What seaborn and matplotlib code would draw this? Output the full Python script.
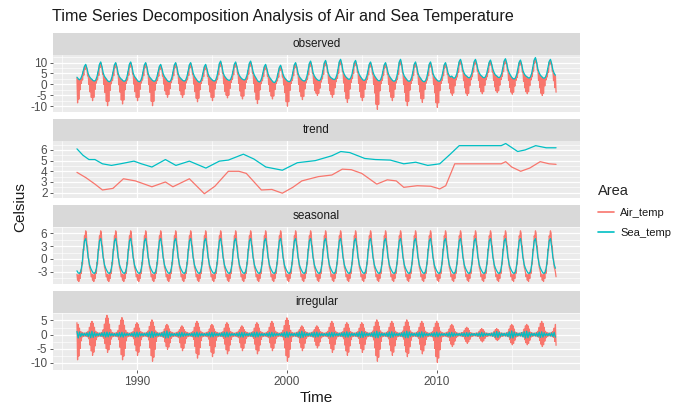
import numpy as np
import pandas as pd
import matplotlib
matplotlib.use("Agg")
import matplotlib.pyplot as plt
import seaborn as sns
from matplotlib.lines import Line2D

# ---------------- data (one row per year Jan..Dec) ----------------
years = list(range(1986, 2018))
areas = ["Air_temp", "Sea_temp"]
components = ["observed", "trend", "seasonal", "irregular"]

sea_obs = [
    [3.3, 2.6, 2.1, 2.6, 4.0, 6.2, 8.3, 9.2, 7.4, 4.9, 3.6, 2.8],
    [2.3, 1.7, 1.5, 2.0, 3.5, 6.1, 9.2, 10.3, 8.2, 5.3, 3.7, 2.9],
    [2.1, 1.4, 1.2, 1.7, 3.3, 6.0, 9.0, 10.0, 8.0, 5.0, 3.5, 2.7],
    [2.2, 1.6, 1.4, 1.9, 3.4, 6.2, 9.3, 10.3, 8.3, 5.2, 3.7, 2.9],
    [2.1, 1.4, 1.2, 1.7, 3.2, 6.0, 9.0, 10.0, 8.0, 5.0, 3.5, 2.8],
    [2.1, 1.6, 1.4, 1.9, 3.4, 5.8, 8.3, 9.2, 7.3, 4.9, 3.6, 2.8],
    [2.0, 1.4, 1.2, 1.7, 3.2, 6.0, 9.0, 10.0, 8.0, 5.0, 3.5, 2.8],
    [2.2, 1.7, 1.5, 2.0, 3.5, 6.1, 9.0, 10.0, 8.0, 5.2, 3.7, 2.8],
    [2.0, 1.3, 1.0, 1.5, 3.0, 5.6, 8.2, 9.2, 7.2, 4.8, 3.5, 2.8],
    [2.2, 1.7, 1.5, 2.0, 3.6, 6.4, 9.6, 10.7, 8.6, 5.4, 3.9, 3.1],
    [2.4, 2.0, 1.8, 2.3, 3.8, 6.4, 9.3, 10.3, 8.3, 5.6, 4.1, 3.2],
    [2.6, 2.2, 2.0, 2.5, 4.0, 6.7, 9.7, 10.7, 8.6, 5.8, 4.2, 3.2],
    [2.2, 1.4, 1.1, 1.6, 3.1, 5.6, 8.2, 9.2, 7.2, 4.8, 3.4, 2.6],
    [1.8, 1.1, 0.8, 1.3, 2.8, 5.3, 7.8, 8.8, 6.9, 4.6, 3.2, 2.5],
    [1.8, 1.4, 1.2, 1.7, 3.2, 6.0, 9.0, 10.0, 8.0, 5.1, 3.6, 2.8],
    [2.1, 1.7, 1.5, 2.0, 3.6, 6.4, 9.6, 10.7, 8.6, 5.4, 3.9, 3.0],
    [2.3, 1.9, 1.7, 2.2, 3.8, 6.6, 9.9, 11.0, 8.9, 5.6, 4.1, 3.2],
    [2.8, 2.4, 2.2, 2.7, 4.3, 7.1, 10.4, 11.5, 9.4, 6.1, 4.6, 3.6],
    [3.0, 2.5, 2.3, 2.8, 4.3, 7.0, 10.0, 11.0, 8.9, 6.1, 4.5, 3.5],
    [2.7, 2.0, 1.8, 2.3, 3.8, 6.4, 9.3, 10.3, 8.3, 5.6, 4.1, 3.2],
    [2.4, 1.8, 1.6, 2.1, 3.6, 6.2, 9.0, 10.0, 8.0, 5.4, 3.9, 3.0],
    [2.2, 1.6, 1.4, 1.9, 3.6, 6.6, 10.3, 11.5, 9.1, 5.4, 3.8, 3.0],
    [2.2, 1.6, 1.4, 1.9, 3.4, 6.1, 9.3, 10.3, 8.2, 5.2, 3.7, 2.9],
    [2.0, 1.4, 1.2, 1.7, 3.2, 6.0, 9.3, 10.3, 8.2, 5.0, 3.6, 2.8],
    [2.1, 1.6, 1.4, 1.9, 3.4, 6.0, 9.0, 10.0, 8.0, 5.3, 4.0, 3.4],
    [3.8, 3.1, 2.8, 3.3, 4.8, 7.6, 10.5, 11.5, 9.5, 6.6, 5.1, 4.2],
    [3.8, 3.2, 3.0, 3.5, 5.0, 7.7, 10.5, 11.5, 9.5, 6.8, 5.3, 4.3],
    [3.8, 3.2, 3.0, 3.5, 5.0, 7.6, 10.2, 11.2, 9.2, 6.8, 5.3, 4.3],
    [3.9, 3.3, 3.1, 3.6, 5.1, 7.9, 10.8, 11.8, 9.8, 6.9, 5.3, 4.2],
    [3.3, 2.7, 2.5, 3.0, 4.6, 7.3, 10.2, 11.2, 9.2, 6.3, 4.9, 4.0],
    [3.6, 3.1, 2.9, 3.4, 5.1, 8.1, 11.2, 12.3, 10.1, 6.9, 5.3, 4.2],
    [3.6, 3.0, 2.8, 3.3, 4.8, 7.6, 10.5, 11.5, 9.5, 6.6, 5.1, 4.2],
]

# air temperature is daily and very noisy: upper and lower edge of its band per month
air_obs_hi = [
    [3.0, 2.3, 1.8, 2.3, 3.7, 5.9, 8.0, 8.9, 7.1, 4.6, 3.3, 2.5],
    [2.0, 1.4, 1.2, 1.7, 3.2, 5.8, 8.9, 10.0, 7.9, 5.0, 3.4, 2.6],
    [1.8, 1.1, 0.9, 1.4, 3.0, 5.7, 8.7, 9.7, 7.7, 4.7, 3.2, 2.4],
    [1.9, 1.3, 1.1, 1.6, 3.1, 5.9, 9.0, 10.0, 8.0, 4.9, 3.4, 2.6],
    [1.8, 1.1, 0.9, 1.4, 2.9, 5.7, 8.7, 9.7, 7.7, 4.7, 3.2, 2.5],
    [1.8, 1.3, 1.1, 1.6, 3.1, 5.5, 8.0, 8.9, 7.0, 4.6, 3.3, 2.5],
    [1.7, 1.1, 0.9, 1.4, 2.9, 5.7, 8.7, 9.7, 7.7, 4.7, 3.2, 2.5],
    [1.9, 1.4, 1.2, 1.7, 3.2, 5.8, 8.7, 9.7, 7.7, 4.9, 3.4, 2.5],
    [1.7, 1.0, 0.7, 1.2, 2.7, 5.3, 7.9, 8.9, 6.9, 4.5, 3.2, 2.5],
    [1.9, 1.4, 1.2, 1.7, 3.3, 6.1, 9.3, 10.4, 8.3, 5.1, 3.6, 2.8],
    [2.1, 1.7, 1.5, 2.0, 3.5, 6.1, 9.0, 10.0, 8.0, 5.3, 3.8, 2.9],
    [2.3, 1.9, 1.7, 2.2, 3.7, 6.4, 9.4, 10.4, 8.3, 5.5, 3.9, 2.9],
    [1.9, 1.1, 0.8, 1.3, 2.8, 5.3, 7.9, 8.9, 6.9, 4.5, 3.1, 2.3],
    [1.5, 0.8, 0.5, 1.0, 2.5, 5.0, 7.5, 8.5, 6.6, 4.3, 2.9, 2.2],
    [1.5, 1.1, 0.9, 1.4, 2.9, 5.7, 8.7, 9.7, 7.7, 4.8, 3.3, 2.5],
    [1.8, 1.4, 1.2, 1.7, 3.3, 6.1, 9.3, 10.4, 8.3, 5.1, 3.6, 2.7],
    [2.0, 1.6, 1.4, 1.9, 3.5, 6.3, 9.6, 10.7, 8.6, 5.3, 3.8, 2.9],
    [2.5, 2.1, 1.9, 2.4, 4.0, 6.8, 10.1, 11.2, 9.1, 5.8, 4.3, 3.3],
    [2.7, 2.2, 2.0, 2.5, 4.0, 6.7, 9.7, 10.7, 8.6, 5.8, 4.2, 3.2],
    [2.4, 1.7, 1.5, 2.0, 3.5, 6.1, 9.0, 10.0, 8.0, 5.3, 3.8, 2.9],
    [2.1, 1.5, 1.3, 1.8, 3.3, 5.9, 8.7, 9.7, 7.7, 5.1, 3.6, 2.7],
    [1.9, 1.3, 1.1, 1.6, 3.3, 6.3, 10.0, 11.2, 8.8, 5.1, 3.5, 2.7],
    [1.9, 1.3, 1.1, 1.6, 3.1, 5.8, 9.0, 10.0, 7.9, 4.9, 3.4, 2.6],
    [1.7, 1.1, 0.9, 1.4, 2.9, 5.7, 9.0, 10.0, 7.9, 4.7, 3.3, 2.5],
    [1.8, 1.3, 1.1, 1.6, 3.1, 5.7, 8.7, 9.7, 7.7, 5.0, 3.7, 3.1],
    [3.5, 2.8, 2.5, 3.0, 4.5, 7.3, 10.2, 11.2, 9.2, 6.3, 4.8, 3.9],
    [3.5, 2.9, 2.7, 3.2, 4.7, 7.4, 10.2, 11.2, 9.2, 6.5, 5.0, 4.0],
    [3.5, 2.9, 2.7, 3.2, 4.7, 7.3, 9.9, 10.9, 8.9, 6.5, 5.0, 4.0],
    [3.6, 3.0, 2.8, 3.3, 4.8, 7.6, 10.5, 11.5, 9.5, 6.6, 5.0, 3.9],
    [3.0, 2.4, 2.2, 2.7, 4.3, 7.0, 9.9, 10.9, 8.9, 6.0, 4.6, 3.7],
    [3.3, 2.8, 2.6, 3.1, 4.8, 7.8, 10.9, 12.0, 9.8, 6.6, 5.0, 3.9],
    [3.3, 2.7, 2.5, 3.0, 4.5, 7.3, 10.2, 11.2, 9.2, 6.3, 4.8, 3.9],
]
air_obs_lo = [
    [-8.5, -6.8, -2.5, 0.5, 2.0, 4.2, 6.8, 7.7, 3.9, 0.0, -3.5, -6.0],
    [-7.5, -6.0, -2.3, 0.6, 2.1, 4.1, 7.7, 8.8, 4.7, 0.0, -3.8, -7.8],
    [-9.8, -7.8, -2.8, 0.3, 1.8, 4.0, 7.5, 8.5, 4.5, -0.2, -3.6, -7.2],
    [-9.0, -7.2, -2.5, 0.5, 2.0, 4.2, 7.8, 8.8, 4.8, 0.1, -3.4, -6.0],
    [-7.5, -6.0, -2.3, 0.6, 2.0, 4.0, 7.5, 8.5, 4.5, -0.1, -3.7, -7.8],
    [-9.8, -7.8, -2.7, 0.4, 1.9, 3.8, 6.8, 7.7, 3.8, 0.1, -3.0, -4.7],
    [-5.9, -4.7, -2.0, 0.8, 2.2, 4.0, 7.5, 8.5, 4.5, 0.3, -3.0, -4.8],
    [-6.0, -4.8, -2.1, 0.7, 2.1, 4.1, 7.5, 8.5, 4.5, 0.1, -3.4, -6.4],
    [-8.0, -6.4, -2.5, 0.4, 1.8, 3.6, 6.7, 7.7, 3.7, -0.2, -3.5, -6.0],
    [-7.5, -6.0, -2.2, 0.6, 2.2, 4.4, 8.1, 9.2, 5.1, 0.2, -3.3, -5.0],
    [-6.2, -5.0, -1.9, 0.9, 2.3, 4.4, 7.8, 8.8, 4.8, 0.4, -3.1, -5.4],
    [-6.7, -5.4, -2.0, 0.9, 2.4, 4.7, 8.2, 9.2, 5.1, 0.3, -3.6, -7.0],
    [-8.8, -7.0, -2.6, 0.3, 1.7, 3.6, 6.7, 7.7, 3.7, -0.1, -3.3, -5.4],
    [-6.7, -5.4, -2.4, 0.3, 1.6, 3.3, 6.3, 7.3, 3.4, -0.3, -3.8, -8.0],
    [-10.0, -8.0, -2.8, 0.4, 1.9, 4.0, 7.5, 8.5, 4.5, 0.0, -3.4, -5.6],
    [-7.0, -5.6, -2.1, 0.7, 2.2, 4.4, 8.1, 9.2, 5.1, 0.3, -2.9, -4.1],
    [-5.1, -4.1, -1.8, 1.0, 2.5, 4.6, 8.4, 9.5, 5.4, 0.5, -3.0, -4.7],
    [-5.9, -4.7, -1.6, 1.2, 2.8, 5.1, 8.9, 10.0, 5.9, 0.6, -3.4, -6.6],
    [-8.3, -6.6, -2.2, 0.9, 2.6, 5.0, 8.5, 9.5, 5.4, 0.4, -3.3, -6.0],
    [-7.5, -6.0, -2.3, 0.6, 2.2, 4.4, 7.8, 8.8, 4.8, 0.0, -4.0, -9.2],
    [-11.5, -9.2, -3.0, 0.3, 1.9, 4.2, 7.5, 8.5, 4.5, 0.0, -3.4, -6.0],
    [-7.5, -6.0, -2.3, 0.6, 2.2, 4.6, 8.8, 10.0, 5.6, -0.1, -3.7, -7.8],
    [-9.8, -7.8, -2.7, 0.4, 1.9, 4.1, 7.8, 8.8, 4.7, 0.0, -3.5, -6.6],
    [-8.3, -6.6, -2.4, 0.5, 2.0, 4.0, 7.8, 8.8, 4.7, -0.1, -3.9, -8.5],
    [-10.6, -8.5, -2.9, 0.4, 1.9, 4.0, 7.5, 8.5, 4.5, 0.7, -2.0, -4.0],
    [-5.0, -4.0, -0.7, 2.0, 3.4, 5.6, 9.0, 10.0, 6.0, 1.7, -1.6, -4.1],
    [-5.1, -4.1, -0.6, 2.1, 3.5, 5.7, 9.0, 10.0, 6.0, 1.8, -1.4, -3.4],
    [-4.3, -3.4, -0.5, 2.1, 3.5, 5.6, 8.7, 9.7, 5.7, 1.8, -1.2, -3.0],
    [-3.8, -3.0, -0.4, 2.2, 3.6, 5.9, 9.3, 10.3, 6.3, 1.9, -1.4, -3.6],
    [-4.5, -3.6, -0.8, 1.8, 3.2, 5.3, 8.7, 9.7, 5.7, 1.4, -1.6, -3.4],
    [-4.3, -3.4, -0.6, 2.0, 3.5, 6.1, 9.7, 10.8, 6.6, 1.8, -1.6, -4.1],
    [-5.1, -4.1, -0.7, 2.0, 3.4, 5.6, 9.0, 10.0, 6.0, 1.7, -1.5, -3.6],
]

# trend (read at the times where the curve bends)
trend_sea_time = [1986.0, 1986.4, 1986.8, 1987.2, 1987.7, 1988.3, 1988.9, 1989.8, 1990.3,
                  1991.0, 1991.9, 1992.6, 1993.5, 1994.6, 1995.5, 1996.1, 1997.1, 1997.8,
                  1998.6, 1999.7, 2000.7, 2001.9, 2003.0, 2003.6, 2004.2, 2005.2, 2005.9,
                  2006.9, 2007.8, 2008.6, 2009.4, 2010.2, 2010.9, 2011.5, 2012.5, 2014.3,
                  2014.6, 2015.4, 2015.9, 2016.6, 2017.3, 2017.96]
trend_sea = [6.1, 5.5, 5.1, 5.1, 4.7, 4.55, 4.7, 4.95, 4.7, 4.4, 5.1, 4.55, 4.95, 4.3,
             4.95, 5.05, 5.6, 5.15, 4.4, 4.1, 4.8, 5.0, 5.45, 5.85, 5.75, 5.2, 5.1, 5.05,
             4.7, 4.85, 4.55, 4.7, 5.6, 6.4, 6.4, 6.4, 6.6, 5.85, 6.0, 6.4, 6.2, 6.2]
trend_air_time = [1986.0, 1986.6, 1987.2, 1987.7, 1988.4, 1989.1, 1989.9, 1991.0, 1991.9,
                  1992.4, 1993.5, 1994.5, 1995.2, 1996.1, 1996.8, 1997.3, 1998.3, 1999.0,
                  1999.7, 2000.4, 2001.0, 2002.1, 2003.0, 2003.7, 2004.3, 2005.0, 2006.0,
                  2006.7, 2007.3, 2007.8, 2008.7, 2009.6, 2010.2, 2010.6, 2011.2, 2011.8,
                  2012.5, 2014.3, 2014.6, 2015.0, 2015.6, 2016.2, 2016.9, 2017.5, 2017.96]
trend_air = [3.9, 3.4, 2.8, 2.25, 2.4, 3.3, 3.1, 2.55, 3.0, 2.55, 3.3, 1.9, 2.6, 4.0, 4.0,
             3.8, 2.25, 2.3, 1.95, 2.5, 3.1, 3.5, 3.65, 4.2, 4.15, 3.8, 2.8, 3.2, 3.1, 2.5,
             2.65, 2.6, 2.35, 2.65, 4.7, 4.7, 4.7, 4.7, 4.9, 4.4, 4.0, 4.3, 4.9, 4.7, 4.65]

# seasonal component: one year, repeated every year by the decomposition
sea_seasonal = [-2.8, -3.3, -3.4, -3.0, -1.5, 1.6, 4.2, 4.8, 2.8, 0.3, -1.3, -2.2]
air_seasonal_hi = [-3.6, -3.8, -3.3, -2.6, -0.8, 2.3, 5.4, 6.6, 3.4, 0.3, -1.9, -3.1]
air_seasonal_lo = [-5.0, -5.3, -4.6, -3.4, -1.2, 2.0, 5.0, 6.1, 3.0, 0.0, -2.4, -4.2]

# irregular component
air_irr_hi = [
    [4.2, 3.6, 2.3, 1.1, 0.8, 0.6, 0.5, 0.6, 0.8, 1.2, 2.6, 4.0],
    [4.7, 4.0, 2.6, 1.2, 0.8, 0.6, 0.5, 0.6, 0.8, 1.7, 3.7, 5.8],
    [6.8, 5.8, 3.7, 1.7, 0.8, 0.6, 0.5, 0.6, 0.8, 1.5, 3.3, 5.1],
    [6.0, 5.1, 3.3, 1.5, 0.8, 0.6, 0.5, 0.6, 0.8, 1.1, 2.3, 3.6],
    [4.2, 3.6, 2.3, 1.1, 0.8, 0.6, 0.5, 0.6, 0.8, 1.3, 2.9, 4.4],
    [5.2, 4.4, 2.9, 1.3, 0.8, 0.6, 0.5, 0.6, 0.8, 1.0, 2.0, 3.1],
    [3.6, 3.1, 2.0, 1.0, 0.8, 0.6, 0.5, 0.6, 0.8, 1.0, 1.7, 2.6],
    [3.1, 2.6, 1.7, 1.0, 0.8, 0.6, 0.5, 0.6, 0.8, 1.2, 2.6, 4.0],
    [4.7, 4.0, 2.6, 1.2, 0.8, 0.6, 0.5, 0.6, 0.8, 1.0, 2.0, 3.1],
    [3.6, 3.1, 2.0, 1.0, 0.8, 0.6, 0.5, 0.6, 0.8, 1.1, 2.3, 3.6],
    [4.2, 3.6, 2.3, 1.1, 0.8, 0.6, 0.5, 0.6, 0.8, 1.0, 1.7, 2.6],
    [3.1, 2.6, 1.7, 1.0, 0.8, 0.6, 0.5, 0.6, 0.8, 1.1, 2.3, 3.6],
    [4.2, 3.6, 2.3, 1.1, 0.8, 0.6, 0.5, 0.6, 0.8, 1.2, 2.6, 4.0],
    [4.7, 4.0, 2.6, 1.2, 0.8, 0.6, 0.5, 0.6, 0.8, 1.5, 3.2, 5.0],
    [5.9, 5.0, 3.2, 1.5, 0.8, 0.6, 0.5, 0.6, 0.8, 1.0, 1.7, 2.6],
    [3.1, 2.6, 1.7, 1.0, 0.8, 0.6, 0.5, 0.6, 0.8, 1.0, 1.7, 2.6],
    [3.1, 2.6, 1.7, 1.0, 0.8, 0.6, 0.5, 0.6, 0.8, 1.2, 2.6, 4.0],
    [4.7, 4.0, 2.6, 1.2, 0.8, 0.6, 0.5, 0.6, 0.8, 1.1, 2.3, 3.6],
    [4.2, 3.6, 2.3, 1.1, 0.8, 0.6, 0.5, 0.6, 0.8, 1.1, 2.3, 3.6],
    [4.2, 3.6, 2.3, 1.1, 0.8, 0.6, 0.5, 0.6, 0.8, 1.3, 2.9, 4.4],
    [5.2, 4.4, 2.9, 1.3, 0.8, 0.6, 0.5, 0.6, 0.8, 1.2, 2.6, 4.0],
    [4.7, 4.0, 2.6, 1.2, 0.8, 0.6, 0.5, 0.6, 0.8, 1.3, 2.9, 4.4],
    [5.2, 4.4, 2.9, 1.3, 0.8, 0.6, 0.5, 0.6, 0.8, 1.2, 2.6, 4.0],
    [4.7, 4.0, 2.6, 1.2, 0.8, 0.6, 0.5, 0.6, 0.8, 1.2, 2.6, 4.0],
    [4.7, 4.0, 2.6, 1.2, 0.8, 0.6, 0.5, 0.6, 0.8, 1.0, 2.0, 3.1],
    [3.6, 3.1, 2.0, 1.0, 0.7, 0.5, 0.5, 0.5, 0.7, 0.7, 1.4, 2.2],
    [2.6, 2.2, 1.4, 0.7, 0.6, 0.5, 0.4, 0.5, 0.6, 0.6, 1.2, 1.8],
    [2.1, 1.8, 1.2, 0.6, 0.6, 0.5, 0.4, 0.5, 0.6, 0.6, 1.2, 1.8],
    [2.1, 1.8, 1.2, 0.6, 0.6, 0.5, 0.4, 0.5, 0.6, 0.9, 2.0, 3.1],
    [3.6, 3.1, 2.0, 0.9, 0.7, 0.5, 0.5, 0.6, 0.7, 0.9, 2.0, 3.1],
    [3.6, 3.1, 2.0, 0.9, 0.7, 0.5, 0.5, 0.6, 0.8, 1.2, 2.6, 4.0],
    [4.7, 4.0, 2.6, 1.2, 0.8, 0.6, 0.5, 0.6, 0.8, 1.1, 2.3, 3.6],
]
air_irr_lo = [
    [-8.9, -7.6, -4.9, -2.2, -0.8, -0.6, -0.5, -0.6, -0.8, -1.5, -3.7, -5.8],
    [-7.3, -6.2, -4.0, -1.8, -0.8, -0.6, -0.5, -0.6, -0.8, -1.3, -3.2, -5.0],
    [-6.3, -5.4, -3.5, -1.6, -0.8, -0.6, -0.5, -0.6, -0.8, -1.8, -4.5, -7.1],
    [-8.9, -7.6, -4.9, -2.2, -0.8, -0.6, -0.5, -0.6, -0.8, -1.5, -3.7, -5.8],
    [-7.3, -6.2, -4.0, -1.8, -0.8, -0.6, -0.5, -0.6, -0.8, -1.9, -4.7, -7.5],
    [-9.4, -8.0, -5.2, -2.4, -0.8, -0.6, -0.5, -0.6, -0.8, -1.0, -2.6, -4.2],
    [-5.2, -4.4, -2.9, -1.3, -0.8, -0.6, -0.5, -0.6, -0.8, -1.1, -2.9, -4.6],
    [-5.7, -4.8, -3.1, -1.4, -0.8, -0.6, -0.5, -0.6, -0.8, -1.7, -4.2, -6.6],
    [-8.3, -7.1, -4.6, -2.1, -0.8, -0.6, -0.5, -0.6, -0.8, -1.6, -3.9, -6.2],
    [-7.8, -6.6, -4.3, -2.0, -0.8, -0.6, -0.5, -0.6, -0.8, -1.4, -3.4, -5.4],
    [-6.8, -5.8, -3.7, -1.7, -0.8, -0.6, -0.5, -0.6, -0.8, -1.1, -2.9, -4.6],
    [-5.7, -4.8, -3.1, -1.4, -0.8, -0.6, -0.5, -0.6, -0.8, -1.4, -3.4, -5.4],
    [-6.8, -5.8, -3.7, -1.7, -0.8, -0.6, -0.5, -0.6, -0.8, -1.1, -2.9, -4.6],
    [-5.7, -4.8, -3.1, -1.4, -0.8, -0.6, -0.5, -0.6, -0.8, -1.9, -4.7, -7.5],
    [-9.4, -8.0, -5.2, -2.4, -0.8, -0.6, -0.5, -0.6, -0.8, -1.1, -2.9, -4.6],
    [-5.7, -4.8, -3.1, -1.4, -0.8, -0.6, -0.5, -0.6, -0.8, -0.9, -2.4, -3.8],
    [-4.7, -4.0, -2.6, -1.2, -0.8, -0.6, -0.5, -0.6, -0.8, -1.3, -3.2, -5.0],
    [-6.3, -5.4, -3.5, -1.6, -0.8, -0.6, -0.5, -0.6, -0.8, -1.5, -3.7, -5.8],
    [-7.3, -6.2, -4.0, -1.8, -0.8, -0.6, -0.5, -0.6, -0.8, -1.3, -3.2, -5.0],
    [-6.3, -5.4, -3.5, -1.6, -0.8, -0.6, -0.5, -0.6, -0.8, -1.9, -4.7, -7.5],
    [-9.4, -8.0, -5.2, -2.4, -0.8, -0.6, -0.5, -0.6, -0.8, -1.5, -3.7, -5.8],
    [-7.3, -6.2, -4.0, -1.8, -0.8, -0.6, -0.5, -0.6, -0.8, -1.6, -3.9, -6.2],
    [-7.8, -6.6, -4.3, -2.0, -0.8, -0.6, -0.5, -0.6, -0.8, -1.4, -3.4, -5.4],
    [-6.8, -5.8, -3.7, -1.7, -0.8, -0.6, -0.5, -0.6, -0.8, -2.0, -4.9, -7.8],
    [-9.8, -8.3, -5.4, -2.5, -0.8, -0.6, -0.5, -0.6, -0.8, -0.9, -2.1, -3.4],
    [-4.2, -3.6, -2.3, -1.1, -0.7, -0.5, -0.4, -0.5, -0.7, -0.7, -1.6, -2.5],
    [-3.1, -2.6, -1.7, -0.8, -0.6, -0.5, -0.4, -0.5, -0.6, -0.6, -1.3, -2.1],
    [-2.6, -2.2, -1.4, -0.7, -0.6, -0.5, -0.4, -0.5, -0.6, -0.5, -1.1, -1.7],
    [-2.1, -1.8, -1.2, -0.6, -0.6, -0.5, -0.4, -0.5, -0.6, -0.8, -1.8, -2.9],
    [-3.6, -3.1, -2.0, -0.9, -0.6, -0.5, -0.4, -0.5, -0.6, -0.8, -1.8, -2.9],
    [-3.6, -3.1, -2.0, -0.9, -0.6, -0.5, -0.4, -0.5, -0.7, -0.9, -2.1, -3.4],
    [-4.2, -3.6, -2.3, -1.1, -0.7, -0.5, -0.4, -0.5, -0.7, -1.0, -2.4, -3.8],
]
sea_irr = [
    [1.1, -1.2, 0.9, -0.7, 0.5, -0.4, 0.5, -0.4, 0.6, -0.7, 0.9, -1.1],
    [1.2, -1.0, 0.8, -0.6, 0.4, -0.4, 0.5, -0.5, 0.6, -0.6, 0.8, -0.9],
    [0.9, -0.8, 0.7, -0.5, 0.4, -0.4, 0.4, -0.5, 0.5, -0.6, 0.7, -0.8],
    [0.8, -0.9, 0.6, -0.5, 0.4, -0.3, 0.4, -0.4, 0.5, -0.6, 0.8, -0.9],
    [0.9, -0.8, 0.7, -0.5, 0.4, -0.4, 0.5, -0.4, 0.6, -0.7, 0.9, -1.0],
    [1.1, -1.0, 0.8, -0.6, 0.5, -0.4, 0.5, -0.5, 0.6, -0.7, 1.0, -1.2],
    [1.3, -1.1, 0.8, -0.6, 0.4, -0.4, 0.4, -0.4, 0.5, -0.6, 0.7, -0.8],
    [0.8, -0.7, 0.6, -0.5, 0.4, -0.3, 0.4, -0.4, 0.5, -0.6, 0.7, -0.8],
    [0.9, -0.8, 0.6, -0.5, 0.4, -0.4, 0.4, -0.4, 0.5, -0.5, 0.7, -0.8],
    [0.8, -0.8, 0.7, -0.5, 0.4, -0.4, 0.5, -0.5, 0.6, -0.6, 0.8, -0.9],
    [0.9, -0.8, 0.6, -0.5, 0.4, -0.3, 0.4, -0.4, 0.5, -0.6, 0.7, -0.8],
    [0.8, -0.9, 0.7, -0.5, 0.4, -0.4, 0.5, -0.5, 0.6, -0.7, 0.8, -0.9],
    [0.9, -0.8, 0.6, -0.5, 0.4, -0.4, 0.4, -0.4, 0.5, -0.6, 0.7, -0.8],
    [0.8, -0.7, 0.6, -0.5, 0.4, -0.3, 0.4, -0.4, 0.5, -0.6, 0.8, -1.0],
    [1.0, -0.9, 0.7, -0.5, 0.4, -0.4, 0.5, -0.5, 0.6, -0.7, 0.9, -1.1],
    [1.2, -1.0, 0.8, -0.6, 0.5, -0.4, 0.5, -0.5, 0.6, -0.7, 0.8, -0.9],
    [0.9, -0.8, 0.6, -0.5, 0.4, -0.4, 0.4, -0.4, 0.5, -0.6, 0.7, -0.8],
    [0.8, -0.8, 0.7, -0.5, 0.4, -0.4, 0.5, -0.5, 0.6, -0.6, 0.8, -0.9],
    [1.0, -0.9, 0.7, -0.6, 0.5, -0.4, 0.5, -0.5, 0.6, -0.7, 0.9, -1.0],
    [1.1, -1.0, 0.8, -0.6, 0.5, -0.4, 0.5, -0.5, 0.6, -0.7, 0.9, -1.1],
    [1.2, -1.1, 0.8, -0.6, 0.5, -0.4, 0.5, -0.5, 0.6, -0.7, 0.9, -1.0],
    [1.0, -0.9, 0.7, -0.5, 0.4, -0.4, 0.5, -0.5, 0.6, -0.7, 0.9, -1.1],
    [1.2, -1.1, 0.9, -0.6, 0.5, -0.4, 0.5, -0.5, 0.6, -0.7, 0.8, -0.9],
    [1.0, -0.9, 0.7, -0.5, 0.4, -0.4, 0.4, -0.4, 0.5, -0.6, 0.7, -0.8],
    [0.9, -0.8, 0.6, -0.5, 0.4, -0.3, 0.4, -0.4, 0.5, -0.6, 0.7, -0.8],
    [0.8, -0.7, 0.6, -0.5, 0.4, -0.3, 0.4, -0.4, 0.5, -0.5, 0.6, -0.7],
    [0.7, -0.7, 0.6, -0.5, 0.4, -0.3, 0.4, -0.4, 0.5, -0.5, 0.6, -0.7],
    [0.8, -0.7, 0.6, -0.4, 0.4, -0.3, 0.4, -0.4, 0.5, -0.6, 0.8, -0.9],
    [1.1, -1.0, 0.8, -0.6, 0.5, -0.4, 0.5, -0.5, 0.6, -0.7, 1.0, -1.2],
    [1.3, -1.2, 0.9, -0.6, 0.5, -0.4, 0.5, -0.5, 0.7, -0.8, 1.0, -1.2],
    [1.2, -1.1, 0.8, -0.6, 0.5, -0.4, 0.5, -0.5, 0.6, -0.7, 0.9, -1.0],
    [1.0, -0.9, 0.7, -0.5, 0.4, -0.4, 0.5, -0.5, 0.6, -0.7, 0.8, -0.9],
]

y_ticks = {
    "observed": [-10, -5, 0, 5, 10],
    "trend": [2, 3, 4, 5, 6],
    "seasonal": [-3, 0, 3, 6],
    "irregular": [-10, -5, 0, 5],
}
x_ticks = [1990, 2000, 2010]

# ---------------- build long tables ----------------
n_months = len(years) * 12
month_time = np.array([years[0] + i / 12 for i in range(n_months)])
half_time = np.column_stack([month_time, month_time + 1 / 24]).ravel()


def flat(rows):
    return np.asarray(rows, dtype=float).ravel()


def band(hi, lo):
    return np.column_stack([flat(hi), flat(lo)]).ravel()


frames = {
    "observed": pd.concat([
        pd.DataFrame({"Time": half_time, "Celsius": band(air_obs_hi, air_obs_lo), "Area": "Air_temp"}),
        pd.DataFrame({"Time": month_time, "Celsius": flat(sea_obs), "Area": "Sea_temp"}),
    ]),
    "trend": pd.concat([
        pd.DataFrame({"Time": trend_air_time, "Celsius": trend_air, "Area": "Air_temp"}),
        pd.DataFrame({"Time": trend_sea_time, "Celsius": trend_sea, "Area": "Sea_temp"}),
    ]),
    "seasonal": pd.concat([
        pd.DataFrame({"Time": half_time,
                      "Celsius": band([air_seasonal_hi] * len(years), [air_seasonal_lo] * len(years)),
                      "Area": "Air_temp"}),
        pd.DataFrame({"Time": month_time, "Celsius": flat([sea_seasonal] * len(years)), "Area": "Sea_temp"}),
    ]),
    "irregular": pd.concat([
        pd.DataFrame({"Time": half_time, "Celsius": band(air_irr_hi, air_irr_lo), "Area": "Air_temp"}),
        pd.DataFrame({"Time": month_time, "Celsius": flat(sea_irr), "Area": "Sea_temp"}),
    ]),
}

# ---------------- drawing ----------------
sns.set_theme(style="white")
plt.rcParams["font.family"] = ["Liberation Sans", "DejaVu Sans"]

palette = {"Air_temp": "#F8766D", "Sea_temp": "#00BFC4"}
W, H = 673, 408
fig = plt.figure(figsize=(W / 100, H / 100), dpi=100)
fig.patch.set_facecolor("white")

px0, px1 = 53, 580
panel_rows = [(55, 112), (141, 198), (227, 284), (313, 370)]
strip_h = 22

t_min, t_max = month_time[0], month_time[-1] + 1 / 24
xpad = 0.05 * (t_max - t_min)

for comp, (yt, yb) in zip(components, panel_rows):
    ax = fig.add_axes([px0 / W, 1 - yb / H, (px1 - px0) / W, (yb - yt) / H])
    ax.set_facecolor("#EBEBEB")
    df = frames[comp]
    sns.lineplot(data=df, x="Time", y="Celsius", hue="Area", hue_order=areas,
                 palette=palette, estimator=None, sort=False, legend=False,
                 linewidth=0.9, ax=ax)
    lo, hi = df["Celsius"].min(), df["Celsius"].max()
    pad = 0.05 * (hi - lo)
    ax.set_ylim(lo - pad, hi + pad)
    ax.set_xlim(t_min - xpad, t_max + xpad)
    ax.set_yticks(y_ticks[comp])
    ax.set_yticklabels([str(v) for v in y_ticks[comp]])
    yt_ = y_ticks[comp]
    step = yt_[1] - yt_[0]
    ax.set_yticks([v + step / 2 for v in [yt_[0] - step] + yt_], minor=True)
    ax.set_xticks(x_ticks)
    ax.set_xticks([1985, 1995, 2005, 2015], minor=True)
    ax.grid(True, which="major", color="white", linewidth=0.9)
    ax.grid(True, which="minor", color="white", linewidth=0.45)
    ax.set_axisbelow(True)
    for s in ax.spines.values():
        s.set_visible(False)
    ax.set_xlabel("")
    ax.set_ylabel("")
    ax.tick_params(axis="y", which="major", length=2.5, width=0.6, color="#444444",
                   labelsize=8.5, labelcolor="#4D4D4D", pad=1.5, left=True)
    ax.tick_params(axis="y", which="minor", length=0, left=False)
    if comp == "irregular":
        ax.tick_params(axis="x", which="major", length=2.5, width=0.6, color="#444444",
                       labelsize=8.5, labelcolor="#4D4D4D", pad=2, bottom=True)
        ax.tick_params(axis="x", which="minor", length=0, bottom=False)
    else:
        ax.tick_params(axis="x", which="both", length=0, labelbottom=False, bottom=False)

    sax = fig.add_axes([px0 / W, 1 - yt / H, (px1 - px0) / W, strip_h / H])
    sax.set_facecolor("#D9D9D9")
    sax.set_xticks([])
    sax.set_yticks([])
    for s in sax.spines.values():
        s.set_visible(False)
    sax.text(0.5, 0.5, comp, ha="center", va="center", fontsize=8.5, color="#1A1A1A",
             transform=sax.transAxes)

fig.text(52 / W, 1 - 17 / H, "Time Series Decomposition Analysis of Air and Sea Temperature",
         ha="left", va="center", fontsize=11.6, color="#1A1A1A")
fig.text(316 / W, 1 - 398 / H, "Time", ha="center", va="center", fontsize=11, color="#1A1A1A")
fig.text(20 / W, 1 - 207 / H, "Celsius", ha="center", va="center", rotation=90,
         fontsize=11, color="#1A1A1A")

handles = [Line2D([0], [0], color=palette[a], lw=1.2) for a in areas]
leg = fig.legend(handles, areas, title="Area", loc="upper left",
                 bbox_to_anchor=(590 / W, 1 - 176 / H), frameon=False,
                 fontsize=8, title_fontsize=10.5, handlelength=1.5,
                 handletextpad=0.5, labelspacing=0.9, alignment="left",
                 borderpad=0.2)
for t in leg.get_texts():
    t.set_color("#1A1A1A")

fig.savefig("out.png", dpi=100, facecolor="white")
